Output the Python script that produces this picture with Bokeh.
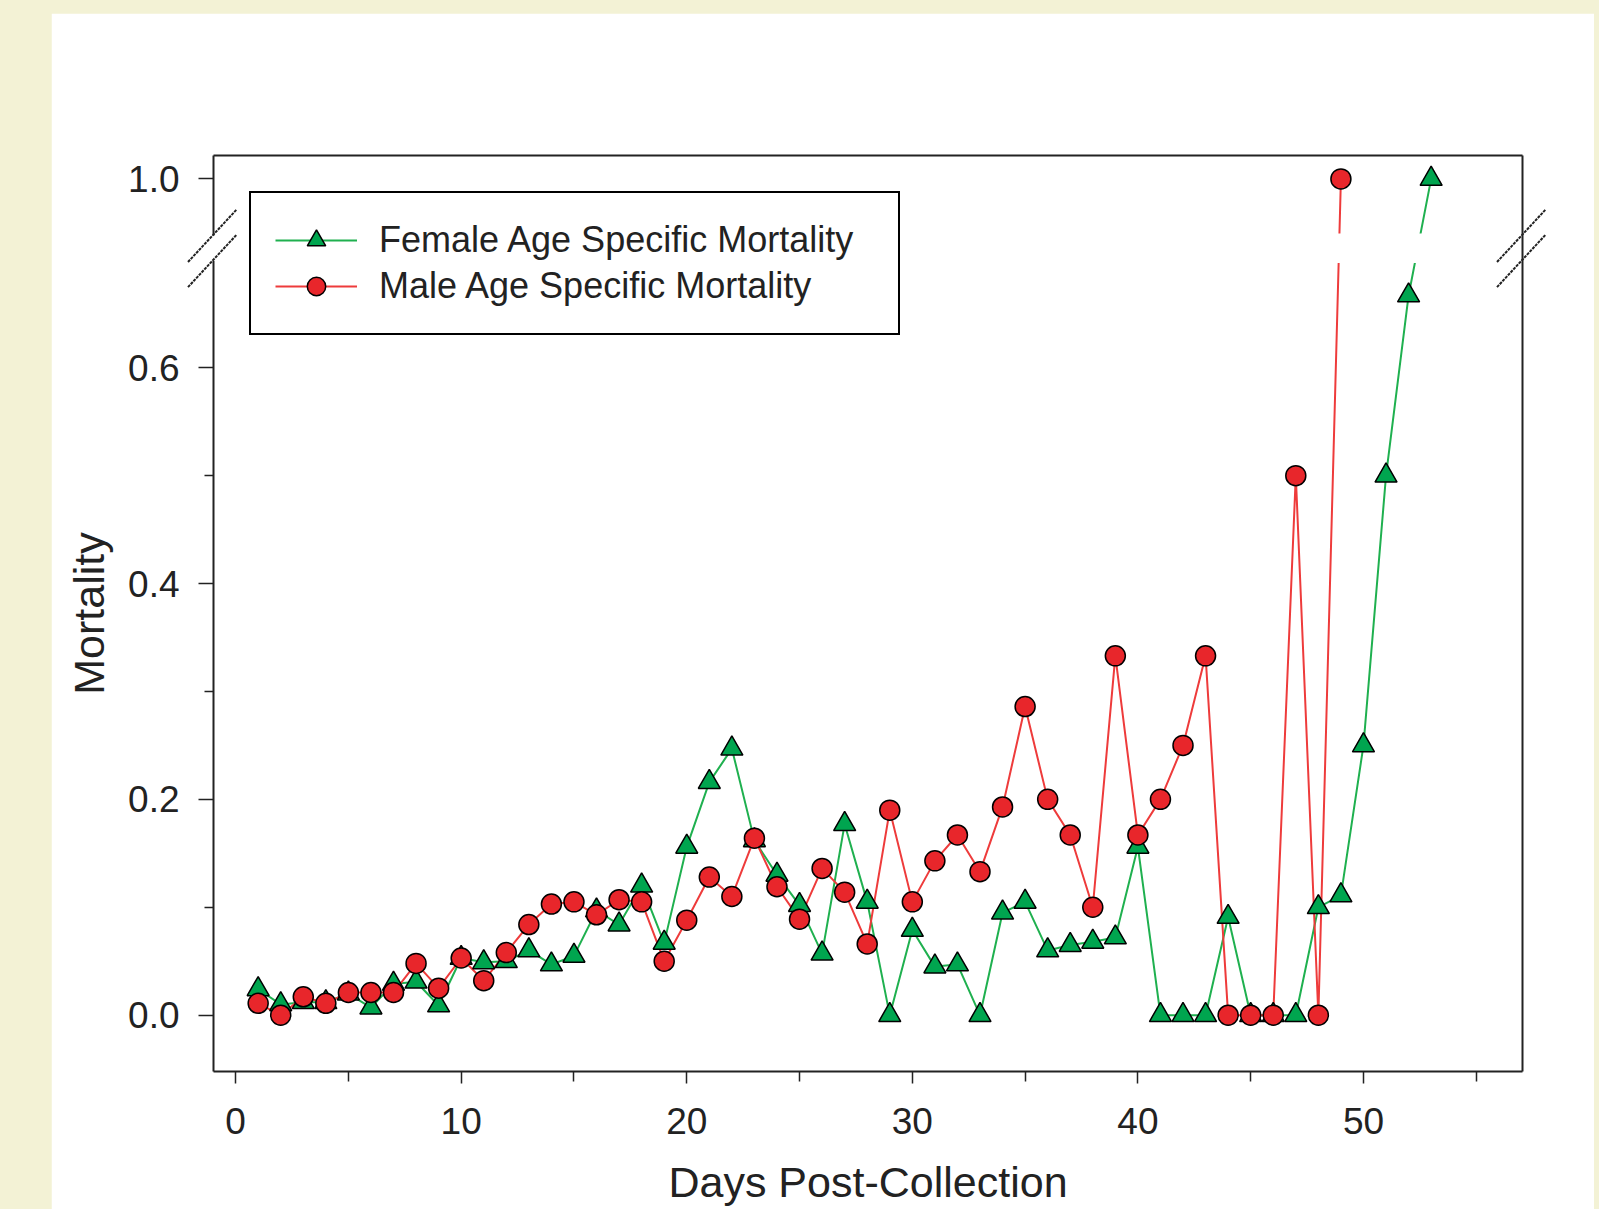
from bokeh.plotting import figure
from bokeh.models import (FixedTicker, LinearAxis, Range1d, CustomJSTickFormatter,
                          Legend, LegendItem, ColumnDataSource)
from bokeh.layouts import column
from bokeh.embed import file_html
from bokeh.resources import INLINE

# ---------------- data ----------------
female_days = list(range(1, 54))
female_mortality = [0.024, 0.010, 0.012, 0.012, 0.020, 0.007, 0.029, 0.031, 0.009, 0.053,
                    0.049, 0.050, 0.060, 0.047, 0.055, 0.097, 0.084, 0.120, 0.067, 0.156,
                    0.216, 0.247, 0.162, 0.130, 0.102, 0.057, 0.177, 0.105, 0.000, 0.079,
                    0.045, 0.047, 0.000, 0.095, 0.105, 0.060, 0.065, 0.068, 0.072, 0.156,
                    0.000, 0.000, 0.000, 0.091, 0.000, 0.000, 0.000, 0.100, 0.111, 0.250,
                    0.500, 0.667, 1.000]
male_days = list(range(1, 50))
male_mortality = [0.011, 0.000, 0.017, 0.011, 0.021, 0.021, 0.021, 0.048, 0.025, 0.053,
                  0.032, 0.058, 0.084, 0.103, 0.105, 0.093, 0.107, 0.105, 0.050, 0.088,
                  0.128, 0.110, 0.164, 0.119, 0.089, 0.136, 0.114, 0.066, 0.190, 0.105,
                  0.143, 0.167, 0.133, 0.193, 0.286, 0.200, 0.167, 0.100, 0.333, 0.167,
                  0.200, 0.250, 0.333, 0.000, 0.000, 0.000, 0.500, 0.000, 1.000]
x_ticks = [0, 10, 20, 30, 40, 50]
x_minor_ticks = [5, 15, 25, 35, 45, 55]
y_ticks = [0.0, 0.2, 0.4, 0.6, 1.0]
y_minor_ticks = [0.1, 0.3, 0.5]
female_label = "Female Age Specific Mortality"
male_label = "Male Age Specific Mortality"
x_title = "Days Post-Collection"
y_title = "Mortality"

# ---------------- broken y axis ----------------
BREAK_AT = 0.75        # values above this sit in the upper (compressed) segment
BREAK_SHIFT = 0.225    # upper segment drawn this much lower
GAP_LO, GAP_HI = 0.697, 0.7245   # gap in the lines / axes


def squash(v):
    return v - BREAK_SHIFT if v > BREAK_AT else v


f_src = ColumnDataSource(dict(x=female_days, y=[squash(v) for v in female_mortality]))
m_src = ColumnDataSource(dict(x=male_days, y=[squash(v) for v in male_mortality]))

FONT = "Liberation Sans"
TXT = "#222222"
AX = "#222222"
GREEN_LINE = "#1fb04f"
GREEN_FILL = "#00a54f"
RED_LINE = "#ee3b3b"
RED_FILL = "#e8262b"

XMIN, XMAX = -0.98, 57.05
YMIN, YMAX = -0.0522, 0.7967

p = figure(width=1543, height=1196, output_backend="svg", toolbar_location=None,
           x_range=Range1d(XMIN, XMAX), y_range=Range1d(YMIN, YMAX),
           min_border_left=162, min_border_right=72, min_border_top=142,
           min_border_bottom=138, margin=(13, 5, 0, 51))
p.outline_line_color = None
p.background_fill_color = "white"
p.border_fill_color = "white"
p.grid.visible = False

# bottom axis
xa = p.xaxis[0]
xa.ticker = FixedTicker(ticks=x_ticks, minor_ticks=x_minor_ticks)
xa.axis_label = x_title
# left axis
ya = p.yaxis[0]
ya.ticker = FixedTicker(ticks=[squash(v) for v in y_ticks], minor_ticks=y_minor_ticks)
ya.formatter = CustomJSTickFormatter(code="return tick > %f ? '1.0' : tick.toFixed(1);" % GAP_HI)
ya.axis_label = y_title

for ax in (xa, ya):
    ax.axis_line_color = AX
    ax.axis_line_width = 2
    ax.major_tick_line_color = AX
    ax.minor_tick_line_color = AX
    ax.major_tick_line_width = 1.5
    ax.minor_tick_line_width = 1.5
    ax.major_tick_in = 0
    ax.minor_tick_in = 0
    ax.major_label_text_font = FONT
    ax.major_label_text_font_size = "37px"
    ax.major_label_text_color = TXT
    ax.axis_label_text_font = FONT
    ax.axis_label_text_font_size = "43px"
    ax.axis_label_text_font_style = "normal"
    ax.axis_label_text_color = TXT

xa.major_tick_out = 12
xa.minor_tick_out = 10
xa.major_label_standoff = 24
xa.axis_label_standoff = 21
ya.major_tick_out = 15
ya.minor_tick_out = 9
ya.major_label_standoff = 19
ya.axis_label_standoff = 12

# frame on the right and top as tick-less axes
for side in ("right", "above"):
    a = LinearAxis(ticker=FixedTicker(ticks=[]), axis_line_color=AX, axis_line_width=2,
                   major_tick_out=0, minor_tick_out=0, major_label_text_font_size="0px",
                   major_label_standoff=0)
    p.add_layout(a, side)

# ---------------- series ----------------
f_line = p.line("x", "y", source=f_src, line_color=GREEN_LINE, line_width=2)
m_line = p.line("x", "y", source=m_src, line_color=RED_LINE, line_width=2)

# white mask: gap of the lines at the axis break
p.quad(left=[XMIN], right=[XMAX], bottom=[GAP_LO], top=[GAP_HI],
       fill_color="white", line_color=None)

f_pts = p.scatter("x", "y", source=f_src, marker="triangle", size=22,
                  fill_color=GREEN_FILL, line_color="black", line_width=1.5)
m_pts = p.scatter("x", "y", source=m_src, marker="circle", size=20,
                  fill_color=RED_FILL, line_color="black", line_width=1.5)

# break marks on both vertical axes
p.quad(left=[XMIN - 0.35, XMAX - 0.35], right=[XMIN + 0.35, XMAX + 0.35],
       bottom=[GAP_LO + 0.002], top=[GAP_HI - 0.002], fill_color="white", line_color=None,
       level="overlay")
sl_x0 = -1.13
sl_dx = 2.15
sl_dy = 0.0485
lo1, lo2 = 0.6747, 0.698
p.segment(x0=[XMIN + sl_x0, XMIN + sl_x0, XMAX + sl_x0, XMAX + sl_x0],
          y0=[lo1, lo2, lo1, lo2],
          x1=[XMIN + sl_x0 + sl_dx, XMIN + sl_x0 + sl_dx, XMAX + sl_x0 + sl_dx, XMAX + sl_x0 + sl_dx],
          y1=[lo1 + sl_dy, lo2 + sl_dy, lo1 + sl_dy, lo2 + sl_dy],
          line_color="#222222", line_width=2, line_dash="3 1", level="overlay")

legend = Legend(items=[LegendItem(label=female_label, renderers=[f_line, f_pts]),
                       LegendItem(label=male_label, renderers=[m_line, m_pts])],
                location="top_left")
legend.margin = 36
legend.padding = 24
legend.spacing = 0
legend.label_height = 46
legend.glyph_height = 46
legend.glyph_width = 82
legend.label_standoff = 22
legend.label_width = 495
legend.label_text_font = FONT
legend.label_text_font_size = "36px"
legend.label_text_color = TXT
legend.border_line_color = "black"
legend.border_line_alpha = 1
legend.border_line_width = 2
legend.background_fill_color = "white"
legend.background_fill_alpha = 1
p.add_layout(legend)

page = column(p, width=1599, height=1209, styles={"background-color": "#f3f2d5"})
open("out.html", "w").write(file_html(page, INLINE))
